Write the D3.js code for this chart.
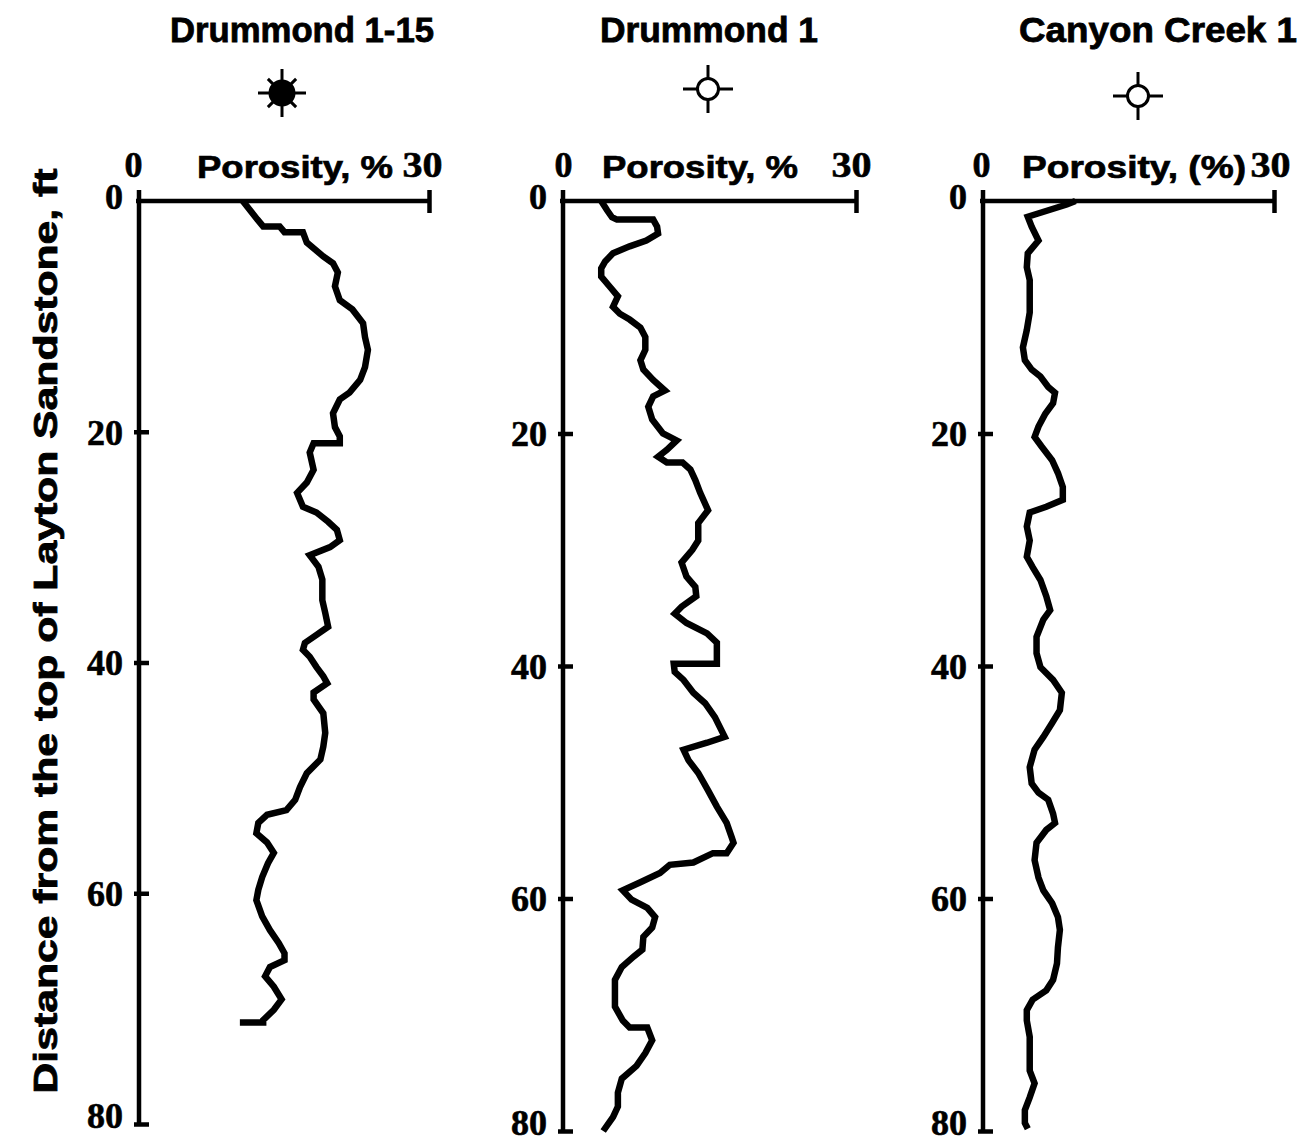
<!DOCTYPE html>
<html>
<head>
<meta charset="utf-8">
<script src="https://cdn.jsdelivr.net/npm/d3@7"></script>
<style>
  html, body { margin: 0; padding: 0; background: #fff; }
  svg { display: block; }
</style>
</head>
<body>
<svg id="chart" width="1307" height="1145"></svg>
<script>
// Well names and porosity axis captions
const wellNames = ["Drummond 1-15", "Drummond 1", "Canyon Creek 1"];
const porosityCaptions = ["Porosity, %", "Porosity, %", "Porosity, (%)"];
const depthTicks = [0, 20, 40, 60, 80];
const porosityTicks = [0, 30];
const depthTitle = "Distance from the top of Layton Sandstone, ft";

// Drummond 1-15: depth below top of Layton Sandstone (ft) and porosity (%)
const drummond115Depth = [0, 1.6, 2.2, 2.2, 2.7, 2.7, 3.6, 4.8, 5.4, 6.2, 7.4, 8.6, 9.4, 10.6, 11.8, 12.9, 14.4, 15.5, 16.6, 17.2, 18.4, 19.6, 20.4, 21.0, 21.0, 21.8, 23.3, 24.4, 25.3, 26.5, 27.0, 27.8, 28.5, 29.4, 30.0, 30.7, 31.7, 32.8, 34.6, 35.7, 36.9, 37.6, 38.3, 38.9, 39.5, 40.4, 41.2, 41.8, 42.6, 43.2, 44.4, 46.1, 47.3, 48.4, 49.6, 50.8, 51.9, 52.8, 53.2, 53.9, 54.8, 55.6, 56.5, 57.4, 58.6, 59.7, 60.6, 62.0, 63.2, 64.3, 65.2, 65.8, 66.4, 67.2, 68.1, 69.2, 70.1, 71.0, 71.2, 71.2];
const drummond115Porosity = [10.7, 12.2, 12.8, 14.5, 15.0, 16.9, 17.3, 19.0, 20.0, 20.5, 20.2, 20.7, 22.0, 23.1, 23.3, 23.6, 23.3, 22.8, 21.7, 20.7, 20.0, 20.2, 20.7, 20.7, 18.0, 17.6, 18.0, 17.3, 16.3, 16.9, 18.3, 19.5, 20.4, 20.7, 19.7, 17.6, 18.5, 18.9, 18.9, 19.2, 19.5, 18.3, 17.1, 16.9, 17.6, 18.3, 19.0, 19.4, 18.0, 18.0, 19.0, 19.2, 19.0, 18.7, 17.3, 16.6, 16.1, 15.2, 13.2, 12.3, 12.1, 13.2, 13.9, 13.3, 12.7, 12.3, 12.1, 12.7, 13.5, 14.4, 15.0, 15.0, 13.5, 13.0, 13.9, 14.7, 13.9, 12.8, 12.8, 10.4];

// Drummond 1
const drummond1Depth = [0, 0.8, 1.4, 1.6, 1.6, 2.2, 2.8, 3.4, 3.9, 4.5, 5.2, 5.8, 6.5, 7.4, 8.2, 9.1, 9.7, 10.2, 10.9, 11.7, 12.8, 13.7, 14.5, 15.4, 16.3, 16.8, 17.7, 18.8, 20.0, 20.6, 21.4, 22.0, 22.5, 22.5, 23.1, 24.0, 25.1, 26.6, 27.7, 29.2, 30.0, 31.1, 32.3, 33.2, 34.0, 34.9, 35.5, 36.3, 37.2, 38.0, 38.9, 39.8, 39.8, 40.5, 41.2, 42.3, 43.2, 44.4, 46.1, 46.6, 47.2, 48.1, 49.2, 50.7, 52.1, 53.5, 54.7, 55.2, 56.1, 56.1, 56.9, 57.1, 57.8, 58.6, 59.3, 60.1, 60.8, 61.6, 62.5, 63.3, 64.4, 65.0, 65.9, 67.0, 68.1, 69.3, 70.5, 71.1, 71.1, 72.2, 73.3, 74.4, 75.5, 76.7, 77.9, 78.8, 80.0];
const drummond1Porosity = [3.9, 4.5, 5.0, 5.5, 9.2, 9.6, 9.7, 8.5, 6.8, 5.1, 4.3, 3.9, 3.9, 4.8, 5.6, 5.1, 5.8, 6.8, 7.9, 8.4, 8.4, 7.9, 8.2, 9.2, 10.4, 9.2, 8.7, 9.1, 10.2, 11.6, 10.6, 9.7, 10.6, 12.2, 13.0, 13.5, 14.0, 14.8, 13.8, 13.8, 13.2, 12.1, 12.6, 13.5, 13.6, 12.1, 11.4, 12.6, 14.7, 15.7, 15.7, 15.7, 11.3, 11.4, 12.3, 13.3, 14.5, 15.5, 16.5, 14.7, 12.3, 12.8, 13.8, 14.8, 15.7, 16.7, 17.2, 17.4, 16.7, 15.3, 13.3, 10.9, 9.9, 7.9, 6.1, 7.0, 8.6, 9.4, 9.1, 8.2, 8.1, 7.2, 6.0, 5.3, 5.3, 5.3, 6.1, 6.8, 8.6, 9.1, 8.4, 7.5, 6.0, 5.6, 5.6, 5.1, 4.1];

// Canyon Creek 1
const canyonCreekDepth = [0, 0.3, 1.35, 2.2, 3.4, 4.5, 5.7, 6.8, 8.3, 9.6, 11.1, 12.6, 13.7, 14.5, 15.1, 16.0, 16.5, 17.4, 18.3, 19.4, 20.3, 21.1, 22.3, 23.4, 24.6, 25.7, 26.3, 26.8, 28.0, 29.2, 30.6, 31.5, 32.6, 34.0, 35.2, 36.0, 37.5, 38.9, 40.1, 41.2, 42.3, 43.8, 44.9, 46.1, 47.2, 48.7, 50.1, 50.9, 51.5, 52.7, 53.5, 54.1, 55.2, 56.7, 58.2, 59.3, 60.4, 61.6, 62.7, 64.2, 65.6, 67.0, 67.9, 68.7, 69.6, 70.5, 71.9, 73.3, 74.8, 75.9, 77.1, 78.2, 79.3, 79.8];
const canyonCreekPorosity = [9.5, 8.6, 4.6, 5.0, 5.7, 4.6, 4.5, 4.8, 4.8, 4.8, 4.5, 4.1, 4.3, 5.0, 5.9, 6.7, 7.4, 7.2, 6.4, 5.7, 5.3, 6.0, 7.1, 7.7, 8.2, 8.2, 6.5, 4.8, 4.5, 4.8, 4.5, 5.1, 5.9, 6.5, 6.9, 6.2, 5.5, 5.5, 5.9, 7.2, 8.1, 7.9, 7.1, 6.2, 5.3, 4.8, 5.0, 5.7, 6.7, 7.2, 7.4, 6.5, 5.5, 5.3, 5.7, 6.2, 7.1, 7.7, 7.9, 7.7, 7.6, 7.2, 6.5, 5.1, 4.5, 4.5, 4.8, 4.8, 4.8, 5.3, 4.8, 4.3, 4.3, 4.6];

const wellDepths = [drummond115Depth, drummond1Depth, canyonCreekDepth];
const wellPorosity = [drummond115Porosity, drummond1Porosity, canyonCreekPorosity];
const markerKinds = ["star", "crosshair", "crosshair"];

// Panel geometry (page pixels)
const panelLayout = [
  { x0: 139, x1: 430, y0: 201, y1: 1124, capX: 295, capLen: 196, x0Lab: -6, x30Lab: -8, titleX: 302, titleLen: 264, markX: 282, markY: 93 },
  { x0: 563, x1: 857, y0: 201, y1: 1131, capX: 700, capLen: 196, x0Lab: 0, x30Lab: -6, titleX: 709, titleLen: 218, markX: 708, markY: 89 },
  { x0: 983, x1: 1275, y0: 201, y1: 1131, capX: 1134, capLen: 224, x0Lab: -2, x30Lab: -5, titleX: 1158, titleLen: 278, markX: 1138, markY: 96 }
];

const svg = d3.select("#chart");
const sans = "'Liberation Sans', Arial, sans-serif";
const serif = "'Liberation Serif', 'Times New Roman', serif";

// Heavy printed lettering: a thin outline in the fill colour thickens the glyphs
function heavy(sel, w) {
  return sel.attr("fill", "#000").attr("stroke", "#000").attr("stroke-width", w).attr("paint-order", "stroke");
}

// Shared vertical caption
heavy(svg.append("text")
  .attr("transform", "translate(57,631) rotate(-90)")
  .attr("text-anchor", "middle")
  .attr("font-family", sans)
  .attr("font-weight", "bold")
  .attr("font-size", 33)
  .attr("textLength", 925)
  .attr("lengthAdjust", "spacingAndGlyphs"), 0.8)
  .text(depthTitle);

panelLayout.forEach((L, i) => {
  const x = d3.scaleLinear().domain([0, 30]).range([L.x0, L.x1]);
  const y = d3.scaleLinear().domain([0, 80]).range([L.y0, L.y1]);
  const g = svg.append("g");

  // Well title
  heavy(g.append("text")
    .attr("x", L.titleX).attr("y", 42)
    .attr("text-anchor", "middle")
    .attr("font-family", sans).attr("font-weight", "bold").attr("font-size", 35)
    .attr("textLength", L.titleLen).attr("lengthAdjust", "spacingAndGlyphs"), 0.8)
    .text(wellNames[i]);

  // Well symbol
  const m = g.append("g").attr("transform", `translate(${L.markX},${L.markY})`)
    .attr("stroke", "#000").attr("stroke-width", 3);
  if (markerKinds[i] === "star") {
    [0, 45, 90, 135].forEach(a => {
      const r = (a % 90 === 0) ? 24 : 20;
      const rad = a * Math.PI / 180;
      m.append("line")
        .attr("x1", -r * Math.cos(rad)).attr("y1", -r * Math.sin(rad))
        .attr("x2", r * Math.cos(rad)).attr("y2", r * Math.sin(rad));
    });
    m.append("circle").attr("r", 12).attr("fill", "#000");
  } else {
    m.append("line").attr("x1", -25).attr("x2", 25).attr("y1", 0).attr("y2", 0);
    m.append("line").attr("x1", 0).attr("x2", 0).attr("y1", -24).attr("y2", 24);
    m.append("circle").attr("r", 10.5).attr("fill", "#fff");
  }

  // Porosity caption
  heavy(g.append("text")
    .attr("x", L.capX).attr("y", 178)
    .attr("text-anchor", "middle")
    .attr("font-family", sans).attr("font-weight", "bold").attr("font-size", 32)
    .attr("textLength", L.capLen).attr("lengthAdjust", "spacingAndGlyphs"), 0.7)
    .text(porosityCaptions[i]);

  // Porosity axis (top)
  const xAxis = d3.axisTop(x).tickValues(porosityTicks).tickSize(0).tickPadding(0).tickFormat(d3.format("d"));
  const xa = g.append("g").attr("transform", `translate(0,${L.y0})`).call(xAxis);
  xa.select(".domain").attr("d", `M${L.x0 - 3},0H${L.x1}`).attr("stroke", "#000").attr("stroke-width", 4.5);
  heavy(xa.selectAll(".tick text")
    .attr("font-family", serif).attr("font-weight", "bold").attr("font-size", 36)
    .attr("y", -24)
    .attr("dx", d => d === 0 ? L.x0Lab : L.x30Lab)
    .attr("textLength", d => d === 0 ? 18 : 40)
    .attr("lengthAdjust", "spacingAndGlyphs"), 0.6);
  xa.selectAll(".tick").filter(d => d === 30).append("line")
    .attr("x1", -1).attr("x2", -1).attr("y1", -11).attr("y2", 12)
    .attr("stroke", "#000").attr("stroke-width", 4.5);

  // Depth axis (left)
  const yAxis = d3.axisLeft(y).tickValues(depthTicks).tickSizeInner(-10).tickSizeOuter(0).tickPadding(0).tickFormat(d3.format("d"));
  const ya = g.append("g").attr("transform", `translate(${L.x0},0)`).call(yAxis);
  ya.select(".domain").attr("d", `M0,${L.y0 - 11}V${L.y1 + 2}`).attr("stroke", "#000").attr("stroke-width", 4.5);
  ya.selectAll(".tick line")
    .attr("x1", -5).attr("x2", 10)
    .attr("stroke", "#000").attr("stroke-width", 4.5)
    .filter(d => d === 0).remove();
  heavy(ya.selectAll(".tick text")
    .attr("font-family", serif).attr("font-weight", "bold").attr("font-size", 36)
    .attr("x", -16)
    .attr("dy", d => d === 0 ? "0.22em" : (d === 80 ? "0.1em" : "0.34em"))
    .attr("textLength", d => d === 0 ? 18 : 36)
    .attr("lengthAdjust", "spacingAndGlyphs"), 0.6);

  // Porosity log
  const pts = d3.zip(wellDepths[i], wellPorosity[i]);
  const line = d3.line().x(d => x(d[1])).y(d => y(d[0])).curve(d3.curveLinear);
  g.append("path")
    .datum(pts)
    .attr("d", line)
    .attr("fill", "none")
    .attr("stroke", "#000")
    .attr("stroke-width", 6.5)
    .attr("stroke-linejoin", "miter")
    .attr("stroke-linecap", "butt");
});
</script>
</body>
</html>
